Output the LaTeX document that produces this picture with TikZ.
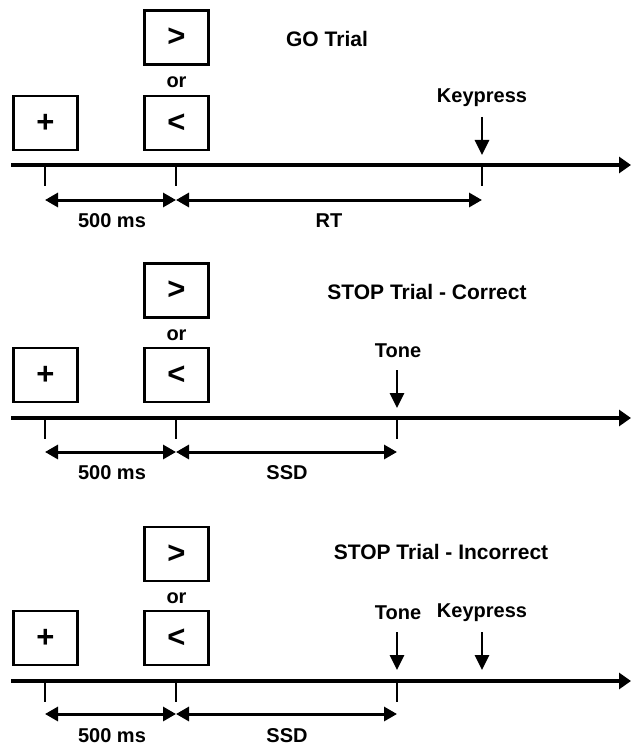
\documentclass[tikz,border=0pt]{standalone}
\usepackage{fontspec}
\setmainfont{Liberation Sans}
\usetikzlibrary{arrows.meta}
\tikzset{
  stim/.style={draw, line width=2.6pt, minimum width=64pt, minimum height=54pt, inner sep=0pt, font=\fontsize{31}{31}\selectfont\bfseries},
  lbl/.style={inner sep=0pt, font=\fontsize{20}{22}\selectfont\bfseries},
  ttl/.style={inner sep=0pt, font=\fontsize{21}{24}\selectfont\bfseries},
  axis/.style={line width=3.2pt, -{Triangle[length=12pt,width=16pt]}},
  tick/.style={line width=2.8pt},
  span/.style={line width=3pt, {Triangle[length=13pt,width=14pt]}-{Triangle[length=13pt,width=14pt]}},
  evt/.style={line width=2.8pt, -{Triangle[length=15pt,width=14pt]}}
}
\begin{document}
\begin{tikzpicture}[x=1pt,y=-1pt]
\useasboundingbox (0,0) rectangle (632,746);
% ===== GO Trial =====
\node[stim] (g1) at (176.5,37.5) {>};
\node[lbl] (or1) at (176.5,82) {or};
\node[stim] (l1) at (176.5,123) {<};
\node[stim] (p1) at (45.5,123) {+};
\node[ttl] (title1) at (327,39) {GO Trial};
\coordinate (s1) at (11,165);
\coordinate (e1) at (631,165);
\draw[axis] (s1) -- (e1);
\coordinate (a1) at (45,165); \coordinate (a1b) at (45,186);
\coordinate (b1) at (176,165); \coordinate (b1b) at (176,186);
\coordinate (c1) at (482,165); \coordinate (c1b) at (482,186);
\draw[tick] (a1) -- (a1b);
\draw[tick] (b1) -- (b1b);
\draw[tick] (c1) -- (c1b);
\coordinate (da1) at (45,200); \coordinate (db1) at (176,200); \coordinate (dc1) at (482,200);
\draw[span] (da1) -- (db1);
\draw[span] (db1) -- (dc1);
\node[lbl] (ms1) at (112,221) {500 ms};
\node[lbl] (rt1) at (329,221) {RT};
\node[lbl] (k1) at (482,98) {Keypress};
\coordinate (k1s) at (482,117);
\coordinate (k1t) at (482,155);
\draw[evt] (k1s) -- (k1t);
% ===== STOP Trial - Correct =====
\node[stim] (g2) at (176.5,290.5) {>};
\node[lbl] (or2) at (176.5,335) {or};
\node[stim] (l2) at (176.5,375) {<};
\node[stim] (p2) at (45.5,375) {+};
\node[ttl] (title2) at (427,292) {STOP Trial - Correct};
\coordinate (s2) at (11,418);
\coordinate (e2) at (631,418);
\draw[axis] (s2) -- (e2);
\coordinate (a2) at (45,418); \coordinate (a2b) at (45,439);
\coordinate (b2) at (176,418); \coordinate (b2b) at (176,439);
\coordinate (c2) at (397,418); \coordinate (c2b) at (397,439);
\draw[tick] (a2) -- (a2b);
\draw[tick] (b2) -- (b2b);
\draw[tick] (c2) -- (c2b);
\coordinate (da2) at (45,452); \coordinate (db2) at (176,452); \coordinate (dc2) at (397,452);
\draw[span] (da2) -- (db2);
\draw[span] (db2) -- (dc2);
\node[lbl] (ms2) at (112,473) {500 ms};
\node[lbl] (ssd2) at (287,473) {SSD};
\node[lbl] (t2) at (398,351) {Tone};
\coordinate (t2s) at (397,370);
\coordinate (t2t) at (397,408);
\draw[evt] (t2s) -- (t2t);
% ===== STOP Trial - Incorrect =====
\node[stim] (g3) at (176.5,554) {>};
\node[lbl] (or3) at (176.5,598) {or};
\node[stim] (l3) at (176.5,638) {<};
\node[stim] (p3) at (45.5,638) {+};
\node[ttl] (title3) at (441,552) {STOP Trial - Incorrect};
\coordinate (s3) at (11,681);
\coordinate (e3) at (631,681);
\draw[axis] (s3) -- (e3);
\coordinate (a3) at (45,681); \coordinate (a3b) at (45,702);
\coordinate (b3) at (176,681); \coordinate (b3b) at (176,702);
\coordinate (c3) at (397,681); \coordinate (c3b) at (397,702);
\draw[tick] (a3) -- (a3b);
\draw[tick] (b3) -- (b3b);
\draw[tick] (c3) -- (c3b);
\coordinate (da3) at (45,714); \coordinate (db3) at (176,714); \coordinate (dc3) at (397,714);
\draw[span] (da3) -- (db3);
\draw[span] (db3) -- (dc3);
\node[lbl] (ms3) at (112,736) {500 ms};
\node[lbl] (ssd3) at (287,736) {SSD};
\node[lbl] (t3) at (398,613) {Tone};
\coordinate (t3s) at (397,632);
\coordinate (t3t) at (397,670);
\draw[evt] (t3s) -- (t3t);
\node[lbl] (k3) at (482,613) {Keypress};
\coordinate (k3s) at (482,632);
\coordinate (k3t) at (482,670);
\draw[evt] (k3s) -- (k3t);
\end{tikzpicture}
\end{document}
